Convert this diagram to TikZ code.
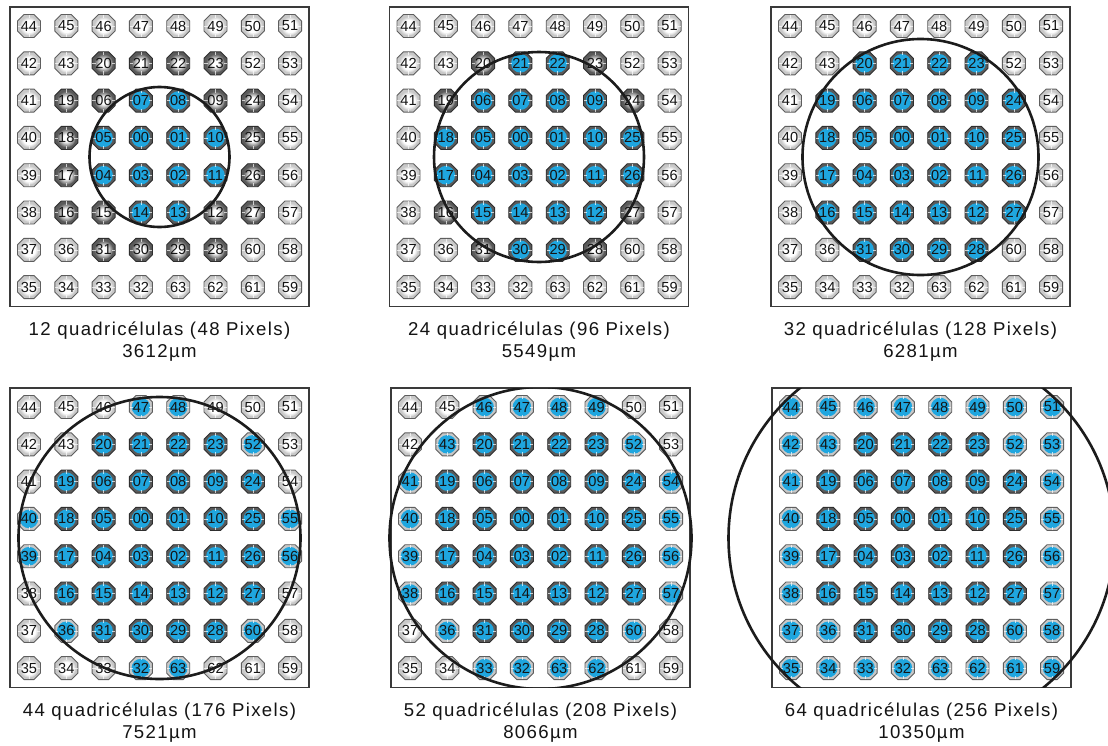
\documentclass[tikz,border=0pt]{standalone}
\usepackage{fontspec}
\setmainfont{Liberation Sans}
\definecolor{cellblue}{HTML}{1FA6DF}
\definecolor{lightcell}{HTML}{C8C8C8}
\definecolor{darkcell}{HTML}{5A5A5A}
\definecolor{lightedge}{HTML}{5E5E5E}
\definecolor{darkedge}{HTML}{2E2E2E}
\definecolor{framecol}{HTML}{3A3A3A}
\definecolor{inkcol}{HTML}{141414}
\definecolor{ringcol}{HTML}{1C1C1C}
\pgfdeclareradialshading{lightglow}{\pgfpoint{0bp}{0bp}}{color(0bp)=(white); color(16bp)=(white); color(25bp)=(lightcell); color(50bp)=(lightcell)}
\pgfdeclareradialshading{darkglow}{\pgfpoint{0bp}{0bp}}{color(0bp)=(white); color(9bp)=(white); color(25bp)=(darkcell); color(50bp)=(darkcell)}
\tikzset{
  cellnum/.style={font=\fontsize{14.6}{15}\selectfont, text=inkcol, inner sep=0pt},
  captext/.style={font=\fontsize{18.6}{20}\selectfont\addfontfeature{LetterSpace=7.4}, text=inkcol, anchor=base},
  panelframe/.style={draw=framecol, line width=1.4pt},
  ringline/.style={draw=ringcol, line width=2.6pt},
  celltick/.style={draw=white, line width=0.55pt, opacity=0.7},
}
\begin{document}
\begin{tikzpicture}[x=1pt,y=-1pt]
\fill[white] (0,0) rectangle (1108,745);
\useasboundingbox (0,0) rectangle (1108,745);
% active cells per panel
\foreach \n in {07,08,05,00,01,10,04,03,02,11,14,13}
  {\expandafter\gdef\csname act-1-\n\endcsname{}}
\foreach \n in {21,22,06,07,08,09,18,05,00,01,10,25,17,04,03,02,11,26,15,14,13,12,30,29}
  {\expandafter\gdef\csname act-2-\n\endcsname{}}
\foreach \n in {20,21,22,23,19,06,07,08,09,24,18,05,00,01,10,25,17,04,03,02,11,26,16,15,14,13,12,27,31,30,29,28}
  {\expandafter\gdef\csname act-3-\n\endcsname{}
   \expandafter\gdef\csname act-4-\n\endcsname{}
   \expandafter\gdef\csname act-5-\n\endcsname{}}
\foreach \n in {47,48,52,40,55,39,56,36,60,32,63}
  {\expandafter\gdef\csname act-4-\n\endcsname{}}
\foreach \n in {46,47,48,49,43,52,41,54,40,55,39,56,38,57,36,60,33,32,63,62}
  {\expandafter\gdef\csname act-5-\n\endcsname{}}
\foreach \n in {44,45,46,47,48,49,50,51,42,43,20,21,22,23,52,53,41,19,06,07,08,09,24,54,40,18,05,00,01,10,25,55,39,17,04,03,02,11,26,56,38,16,15,14,13,12,27,57,37,36,31,30,29,28,60,58,35,34,33,32,63,62,61,59}
  {\expandafter\gdef\csname act-6-\n\endcsname{}}

\foreach \p/\L/\T/\R/\ca/\cb in {
  1/10/7/70/{12 quadricélulas (48 Pixels)}/{3612µm},
  2/389.5/7/105/{24 quadricélulas (96 Pixels)}/{5549µm},
  3/771/7/118/{32 quadricélulas (128 Pixels)}/{6281µm},
  4/10/388/141/{44 quadricélulas (176 Pixels)}/{7521µm},
  5/391/388/151/{52 quadricélulas (208 Pixels)}/{8066µm},
  6/772/388/193/{64 quadricélulas (256 Pixels)}/{10350µm}} {
  \draw[panelframe] (\L,\T) rectangle (\L+299,\T+299.5);
  \foreach \row [count=\j from 0] in {
    {44,45,46,47,48,49,50,51},
    {42,43,20,21,22,23,52,53},
    {41,19,06,07,08,09,24,54},
    {40,18,05,00,01,10,25,55},
    {39,17,04,03,02,11,26,56},
    {38,16,15,14,13,12,27,57},
    {37,36,31,30,29,28,60,58},
    {35,34,33,32,63,62,61,59}} {
    \foreach \n [count=\i from 0] in \row {
      \pgfmathsetmacro\cx{\L+19+37.3*\i}
      \pgfmathsetmacro\cy{\T+19+37.3*\j}
      \ifnum\n<32
        \def\fc{darkcell}\def\ec{darkedge}\def\gl{darkglow}
      \else
        \def\fc{lightcell}\def\ec{lightedge}\def\gl{lightglow}
      \fi
      \draw[shift={(\cx,\cy)}, fill=\fc, draw=\ec, line width=0.9pt]
        (11.5,-5) -- (11.5,5) -- (5,11.5) -- (-5,11.5) -- (-11.5,5)
        -- (-11.5,-5) -- (-5,-11.5) -- (5,-11.5) -- cycle;
      \ifcsname act-\p-\n\endcsname
        \fill[cellblue] (\cx,\cy) circle (9.3pt);
      \else
        \shade[shading=\gl] (\cx,\cy) circle (9.6pt);
      \fi
      \draw[celltick, shift={(\cx,\cy)}] (0,-11.2) -- (0,-8) (0,11.2) -- (0,8)
        (-11.2,0) -- (-8,0) (11.2,0) -- (8,0);
      \node[cellnum] (p\p c\n) at (\cx,\cy) {\n};
    }
  }
  \begin{scope}
    \clip (0,\T) rectangle (1108,\T+299.5);
    \draw[ringline] (\L+149.5,\T+150) circle (\R pt);
  \end{scope}
  \node[captext] (cap\p a) at (\L+149.5,\T+328) {\ca};
  \node[captext] (cap\p b) at (\L+149.5,\T+350) {\cb};
}
\end{tikzpicture}
\end{document}
